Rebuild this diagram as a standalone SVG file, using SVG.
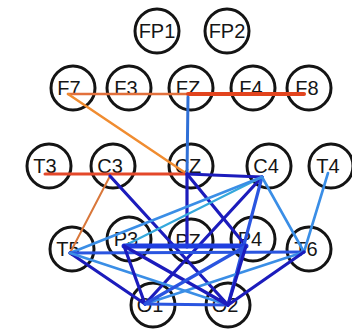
<svg xmlns="http://www.w3.org/2000/svg" width="352" height="330" viewBox="0 0 352 330">
<style>
.n circle{fill:none;stroke:#141414;stroke-width:3}
.n text{font-family:"Liberation Sans",Arial,sans-serif;font-size:20px;fill:#151515;text-anchor:middle}
.e line{stroke-linecap:round;fill:none}
.dk{stroke:#1c1cbc;stroke-width:3.2}
.md{stroke:#2a55e0;stroke-width:3.2}
.lt{stroke:#3a8ee6;stroke-width:2.6}
.cy{stroke:#35a8dc;stroke-width:2.2}
</style>
<rect width="352" height="330" fill="#fff"/>
<g id="nodes">
<g id="FP1" class="n"><circle cx="157" cy="31" r="22"/><text x="157" y="38">FP1</text></g>
<g id="FP2" class="n"><circle cx="227" cy="31" r="22"/><text x="227" y="38">FP2</text></g>
<g id="F7" class="n"><circle cx="73" cy="88" r="22"/><text x="69" y="95">F7</text></g>
<g id="F3" class="n"><circle cx="129" cy="88" r="22"/><text x="126" y="95">F3</text></g>
<g id="FZ" class="n"><circle cx="191" cy="88" r="22"/><text x="188" y="95">FZ</text></g>
<g id="F4" class="n"><circle cx="253" cy="88" r="22"/><text x="251" y="95">F4</text></g>
<g id="F8" class="n"><circle cx="309" cy="88" r="22"/><text x="307" y="95">F8</text></g>
<g id="T3" class="n"><circle cx="49" cy="166" r="22"/><text x="45" y="173">T3</text></g>
<g id="C3" class="n"><circle cx="113" cy="166" r="22"/><text x="110" y="173">C3</text></g>
<g id="CZ" class="n"><circle cx="191" cy="166" r="22"/><text x="188" y="173">CZ</text></g>
<g id="C4" class="n"><circle cx="269" cy="166" r="22"/><text x="266" y="173">C4</text></g>
<g id="T4" class="n"><circle cx="331" cy="166" r="22"/><text x="328" y="173">T4</text></g>
<g id="T5" class="n"><circle cx="72" cy="249" r="22"/><text x="68" y="256">T5</text></g>
<g id="P3" class="n"><circle cx="129" cy="239" r="22"/><text x="126" y="246">P3</text></g>
<g id="PZ" class="n"><circle cx="191" cy="241" r="22"/><text x="188" y="248">PZ</text></g>
<g id="P4" class="n"><circle cx="253" cy="239" r="22"/><text x="250" y="246">P4</text></g>
<g id="T6" class="n"><circle cx="309" cy="249" r="22"/><text x="306" y="256">T6</text></g>
<g id="O1" class="n"><circle cx="153" cy="305" r="22"/><text x="150" y="312">O1</text></g>
<g id="O2" class="n"><circle cx="228" cy="305" r="22"/><text x="225" y="312">O2</text></g>
</g>
<g id="connectors" class="e">
<line x1="68" y1="94" x2="304" y2="94" stroke="#e2703c" stroke-width="2.5"/>
<line x1="188" y1="94" x2="304" y2="94" stroke="#e2441e" stroke-width="4"/>
<line x1="68" y1="94" x2="187" y2="174" stroke="#f08c30" stroke-width="2.5"/>
<line x1="45" y1="174" x2="187" y2="174" stroke="#e4482a" stroke-width="3"/>
<line x1="110" y1="176" x2="70" y2="253" stroke="#d9773a" stroke-width="2"/>
<line x1="188" y1="97" x2="187" y2="174" stroke="#2f6fd6" stroke-width="3"/>
<line class="dk" x1="187" y1="174" x2="262" y2="177"/>
<line class="dk" x1="187" y1="174" x2="187" y2="247"/>
<line class="dk" x1="110" y1="176" x2="228" y2="305"/>
<line class="dk" x1="187" y1="174" x2="246" y2="246"/>
<line class="dk" x1="262" y1="177" x2="145" y2="304"/>
<line class="md" x1="262" y1="177" x2="228" y2="305" stroke-width="3.5"/>
<line class="lt" x1="262" y1="177" x2="304" y2="252" stroke="#3a78c8"/>
<line class="lt" x1="328" y1="173" x2="304" y2="252" stroke="#3a9ad8"/>
<line class="cy" x1="262" y1="177" x2="124" y2="246"/>
<line class="lt" x1="262" y1="177" x2="70" y2="253"/>
<line x1="124" y1="246" x2="246" y2="246" stroke="#1f3fe0" stroke-width="5"/>
<line class="md" x1="70" y1="253" x2="304" y2="252" stroke="#2d6fe8"/>
<line class="dk" x1="70" y1="253" x2="145" y2="304" stroke-width="2.6"/>
<line class="lt" x1="70" y1="253" x2="228" y2="305"/>
<line class="lt" x1="304" y1="252" x2="145" y2="304"/>
<line class="dk" x1="304" y1="252" x2="228" y2="305"/>
<line class="md" x1="145" y1="304" x2="228" y2="305"/>
<line class="dk" x1="124" y1="246" x2="145" y2="304" stroke-width="2.6"/>
<line class="dk" x1="124" y1="246" x2="228" y2="305" stroke-width="2.6"/>
<line class="md" x1="246" y1="246" x2="145" y2="304"/>
<line class="dk" x1="246" y1="246" x2="228" y2="305"/>
</g>
</svg>
